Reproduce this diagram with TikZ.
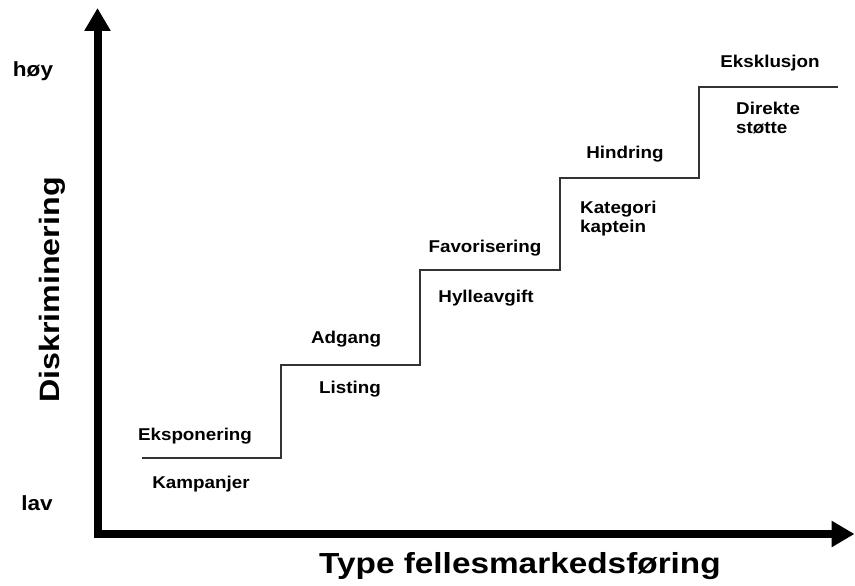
\documentclass[tikz,border=0pt]{standalone}
\usepackage{fontspec}
\setmainfont{Liberation Sans}
\newfontfamily\lblfont{Liberation Sans}[FakeStretch=1.1]
\newfontfamily\ttlfont{Liberation Sans}[FakeStretch=1.15]
\usetikzlibrary{arrows.meta}
\begin{document}
\begin{tikzpicture}[x=1pt,y=-1pt,
  axis/.style={line width=8pt, line join=miter,
    {Triangle[width=25pt,length=23pt]}-{Triangle[width=25pt,length=23pt]}},
  stair/.style={line width=1.3pt, black!80},
  lbl/.style={font=\lblfont\bfseries\fontsize{17.1}{19}\selectfont, anchor=base, inner sep=0pt},
  lblleft/.style={font=\lblfont\bfseries\fontsize{17.1}{19}\selectfont, anchor=base west, inner sep=0pt, align=left},
  lvl/.style={font=\lblfont\bfseries\fontsize{20.5}{23}\selectfont, anchor=base, inner sep=0pt},
  ttl/.style={font=\ttlfont\bfseries\fontsize{29}{32}\selectfont, anchor=base, inner sep=0pt}]
\useasboundingbox (0,0) rectangle (855,586);

% axes
\coordinate (O) at (97.5,534);
\coordinate (ytip) at (97.5,8);
\coordinate (xtip) at (854.5,534);
\draw[axis] (ytip) -- (O) -- (xtip);

% staircase
\coordinate (s0) at (142,458);
\coordinate (s1) at (281,458);
\coordinate (s2) at (281,365);
\coordinate (s3) at (420,365);
\coordinate (s4) at (420,270);
\coordinate (s5) at (560,270);
\coordinate (s6) at (560,178);
\coordinate (s7) at (699,178);
\coordinate (s8) at (699,87);
\coordinate (s9) at (838,87);
\draw[stair] (s0) -- (s1) -- (s2) -- (s3) -- (s4) -- (s5) -- (s6) -- (s7) -- (s8) -- (s9);

% axis labels
\node[lvl] (hoy) at (33,77) {høy};
\node[lvl] (lav) at (37,510) {lav};
\node[ttl, rotate=90, font=\ttlfont\bfseries\fontsize{28}{31}\selectfont] (ylab) at (59,290) {Diskriminering};
\node[ttl] (xlab) at (520,573) {Type fellesmarkedsføring};

% step labels
\node[lbl] (eksp) at (195,440) {Eksponering};
\node[lbl] (kamp) at (201,488) {Kampanjer};
\node[lbl] (adg) at (346,343) {Adgang};
\node[lbl] (list) at (350,393) {Listing};
\node[lbl] (fav) at (485,252) {Favorisering};
\node[lbl] (hyl) at (486,302) {Hylleavgift};
\node[lbl] (hind) at (625,158) {Hindring};
\node[lblleft] (kat) at (580,232) {Kategori\\kaptein};
\node[lblleft] (dir) at (736,133) {Direkte\\støtte};
\node[lbl] (eksk) at (770,68) {Eksklusjon};
\end{tikzpicture}
\end{document}
